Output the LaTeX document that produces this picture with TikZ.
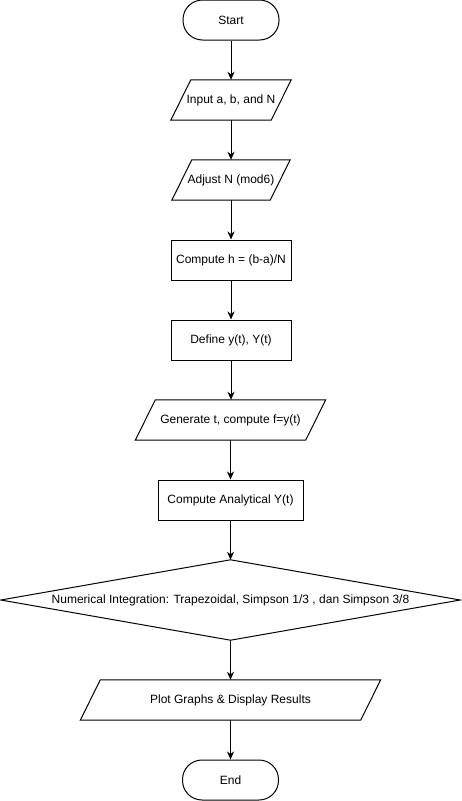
\documentclass[tikz,border=0pt]{standalone}
\usepackage{fontspec}
\setmainfont{Liberation Sans}
\usetikzlibrary{arrows.meta}
\tikzset{
  x=1pt,y=-1pt,
  every node/.style={font=\fontsize{12}{14}\selectfont, inner sep=0pt},
  term/.style={draw, line width=1pt, rounded corners=19.5pt, minimum width=96pt, minimum height=40pt},
  proc/.style={draw, line width=1pt, minimum height=40pt},
  iobox/.style={minimum height=40pt},
  decbox/.style={minimum width=459pt, minimum height=80pt},
  flow/.style={line width=1pt, -{Stealth[length=8pt,width=7pt,inset=2.5pt]}},
  outline/.style={draw, line width=1pt}
}
\newcommand{\paradraw}[1]{\draw[outline] ([xshift=10pt]#1.north west) -- ([xshift=10pt]#1.north east) -- ([xshift=-10pt]#1.south east) -- ([xshift=-10pt]#1.south west) -- cycle;}
\newcommand{\diadraw}[1]{\draw[outline] (#1.north) -- (#1.east) -- (#1.south) -- (#1.west) -- cycle;}
\begin{document}
\begin{tikzpicture}
\useasboundingbox (0,0) rectangle (461,801);
\node[term] (start) at (231,20) {Start};
\node[iobox, minimum width=100pt] (input) at (231,100) {Input a, b, and N};
\node[iobox, minimum width=98pt] (adjust) at (231,180) {Adjust N (mod6)};
\node[proc, minimum width=120pt] (comph) at (231,260) {Compute h = (b-a)/N};
\node[proc, minimum width=120pt] (define) at (231,340) {Define y(t), Y(t)};
\node[iobox, minimum width=170pt] (gen) at (230.5,420) {Generate t, compute f=y(t)};
\node[proc, minimum width=145pt] (anal) at (230.5,500) {Compute Analytical Y(t)};
\node[decbox] (num) at (230.5,600) {Numerical Integration: Trapezoidal, Simpson 1/3 , dan Simpson 3/8};
\node[iobox, minimum width=280pt] (plot) at (230.5,700) {Plot Graphs \& Display Results};
\node[term] (end) at (230.5,780) {End};
\paradraw{input}
\paradraw{adjust}
\paradraw{gen}
\paradraw{plot}
\diadraw{num}
\draw[flow] (start.south) -- (input.north);
\draw[flow] (input.south) -- (adjust.north);
\draw[flow] (adjust.south) -- (comph.north);
\draw[flow] (comph.south) -- (define.north);
\draw[flow] (define.south) -- (define.south |- gen.north);
\draw[flow] (gen.south) -- (anal.north);
\draw[flow] (anal.south) -- (num.north);
\draw[flow] (num.south) -- (plot.north);
\draw[flow] (plot.south) -- (end.north);
\end{tikzpicture}
\end{document}
